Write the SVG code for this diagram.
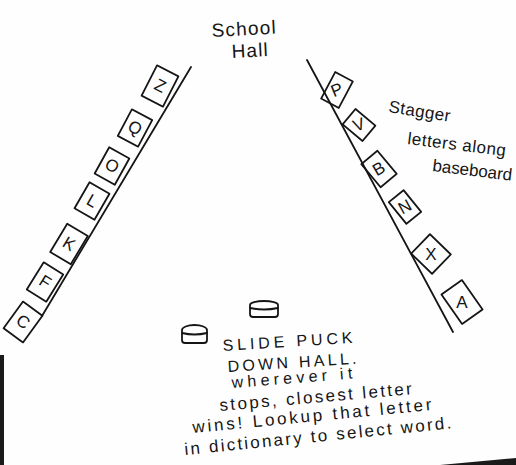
<svg xmlns="http://www.w3.org/2000/svg" width="516" height="465" viewBox="0 0 516 465">
<style>
.ln{fill:none;stroke:#151515;stroke-width:1.8;stroke-linecap:round;stroke-linejoin:round}
.bx{fill:none;stroke:#151515;stroke-width:1.8;stroke-linejoin:round}
.t{font-family:"Liberation Sans",Arial,sans-serif;fill:#151515}
.lt{font-family:"Liberation Sans",Arial,sans-serif;fill:#151515;font-size:17px;text-anchor:middle;dominant-baseline:central}
</style>
<rect width="516" height="465" fill="#fefefe"/>
<g id="photo-edges">
<rect x="0" y="355" width="4" height="110" fill="#1a1a1a"/>
<polygon points="440,465 516,458 516,465" fill="#1a1a1a"/>
</g>
<g id="walls">
<path class="ln" d="M191,67 L42,316"/>
<path class="ln" d="M307,60 L453,332"/>
</g>
<g id="title">
<text class="t" x="212" y="37" font-size="19" textLength="64" transform="rotate(-3 212 37)">School</text>
<text class="t" x="232" y="58" font-size="19" textLength="36" transform="rotate(-3 232 58)">Hall</text>
</g>
<g id="left-letters">
<g id="box-Z" transform="translate(160,86) rotate(27)"><rect class="bx" x="-12" y="-17" width="24" height="34"/><text class="lt" x="0" y="0">Z</text></g>
<g id="box-Q" transform="translate(135,128) rotate(28)"><rect class="bx" x="-11.5" y="-15" width="23" height="30"/><text class="lt" x="0" y="0">Q</text></g>
<g id="box-O" transform="translate(112,166) rotate(29)"><rect class="bx" x="-11.5" y="-15" width="23" height="30"/><text class="lt" x="0" y="0">O</text></g>
<g id="box-L" transform="translate(92,201) rotate(30)"><rect class="bx" x="-11.5" y="-15" width="23" height="30"/><text class="lt" x="0" y="0">L</text></g>
<g id="box-K" transform="translate(69,244) rotate(31)"><rect class="bx" x="-12" y="-16.5" width="24" height="33"/><text class="lt" x="0" y="0">K</text></g>
<g id="box-F" transform="translate(45,282) rotate(32)"><rect class="bx" x="-11.5" y="-16" width="23" height="32"/><text class="lt" x="0" y="0">F</text></g>
<g id="box-C" transform="translate(23,322) rotate(36)"><rect class="bx" x="-12" y="-16.5" width="24" height="33"/><text class="lt" x="0" y="0">C</text></g>
</g>
<g id="right-letters">
<g id="box-P" transform="translate(337,90) rotate(28)"><rect class="bx" x="-10" y="-15" width="20" height="30"/><text class="lt" x="0" y="0" font-size="13" transform="rotate(-50)">P</text></g>
<g id="box-V" transform="translate(359,125) rotate(40)"><rect class="bx" x="-13" y="-10" width="26" height="20"/><text class="lt" x="0" y="0" font-size="13" transform="rotate(-60)">V</text></g>
<g id="box-B" transform="translate(379,169) rotate(50)"><rect class="bx" x="-15" y="-10.5" width="30" height="21"/><text class="lt" x="0" y="0" font-size="14" transform="rotate(-80)">B</text></g>
<g id="box-N" transform="translate(405,207) rotate(51)"><rect class="bx" x="-14" y="-9.5" width="28" height="19"/><text class="lt" x="0" y="0" font-size="14" transform="rotate(-80)">N</text></g>
<g id="box-X" transform="translate(431,254) rotate(44)"><rect class="bx" x="-14.5" y="-13.5" width="29" height="27"/><text class="lt" x="0" y="0" font-size="17" transform="rotate(-44)">X</text></g>
<g id="box-A" transform="translate(462,302) rotate(55)"><rect class="bx" x="-18" y="-12.5" width="36" height="25"/><text class="lt" x="0" y="0" font-size="17" transform="rotate(-55)">A</text></g>
</g>
<g id="stagger-note">
<text class="t" x="388" y="112" font-size="17" textLength="62" transform="rotate(9 388 112)">Stagger</text>
<text class="t" x="407" y="144" font-size="17" textLength="99" transform="rotate(7 407 144)">letters along</text>
<text class="t" x="432" y="171" font-size="17" textLength="80" transform="rotate(7 432 171)">baseboard</text>
</g>
<g id="puck-1">
<path class="ln" d="M250,305 A14,4 0 0 1 278,305 L278,314 Q278,317 275,317 L253,317 Q250,317 250,314 Z"/>
<path class="ln" d="M250,308 Q264,311 278,308"/>
</g>
<g id="puck-2">
<path class="ln" d="M182,330 A12.5,5 0 0 1 207,330 L207,340 Q207,343 204,343 L185,343 Q182,343 182,340 Z"/>
<path class="ln" d="M182,333 Q194.5,336 207,333"/>
</g>
<g id="instructions">
<text class="t" x="223" y="351" font-size="16" textLength="130" transform="rotate(-3.6 223 351)">SLIDE PUCK</text>
<text class="t" x="228" y="372" font-size="16" textLength="129" transform="rotate(-3.7 228 372)">DOWN HALL.</text>
<text class="t" x="232" y="388" font-size="16" textLength="121" transform="rotate(-4.5 232 388)">wherever it</text>
<text class="t" x="220" y="411" font-size="17" textLength="193" transform="rotate(-5 220 411)">stops, closest letter</text>
<text class="t" x="193" y="433" font-size="17" textLength="240" transform="rotate(-5.5 193 433)">wins! Lookup that letter</text>
<text class="t" x="185" y="455" font-size="17" textLength="268" transform="rotate(-5.7 185 455)">in dictionary to select word.</text>
</g>
</svg>
